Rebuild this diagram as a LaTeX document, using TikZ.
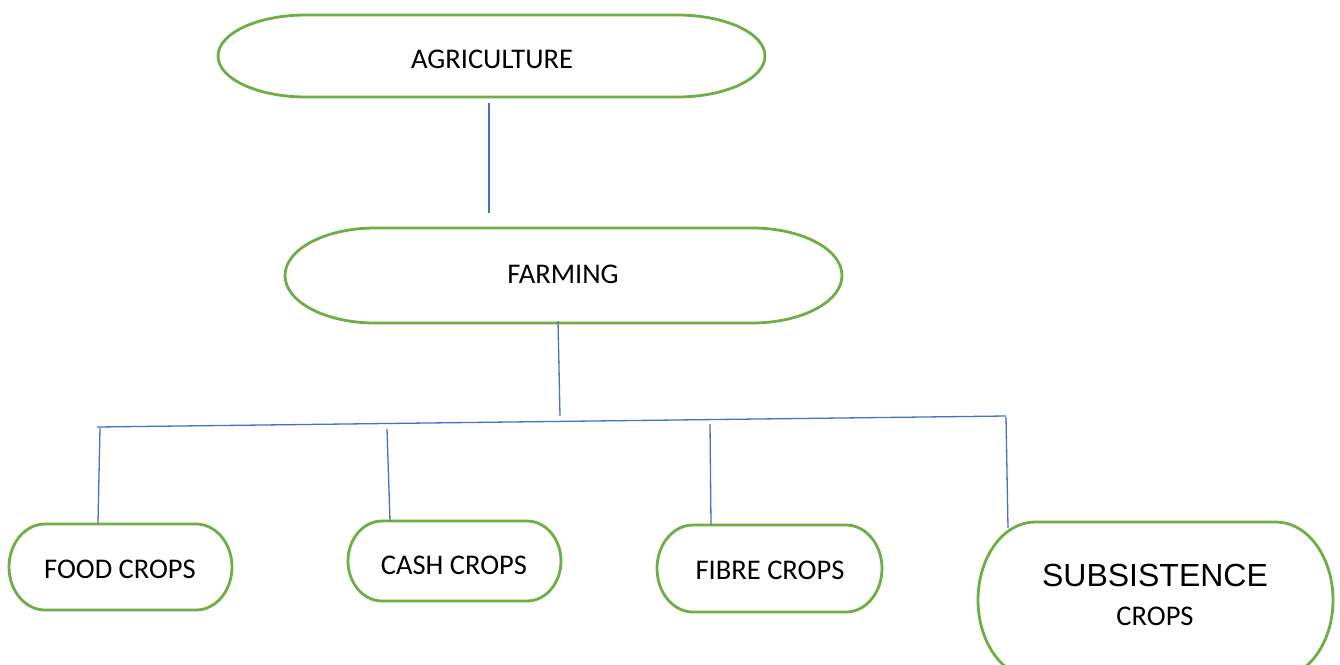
\documentclass[tikz,border=0pt]{standalone}
\usepackage{fontspec}
\setmainfont{Carlito}
\newfontfamily\arialfam{Liberation Sans}
\definecolor{termgreen}{HTML}{70AD47}
\definecolor{linkblue}{HTML}{4472C4}
\tikzset{
  greenline/.style={draw=termgreen,line width=2.8pt},
  link/.style={draw=linkblue,line width=1.3pt},
  boxlabel/.style={inner sep=0pt,font=\fontsize{28.5}{34}\selectfont,text=black},
}
\newcommand\termshape[5]{% cx cy w h rx (pixel coords, y down)
  \draw[greenline] ({#1-#3/2+#5},{-#2+#4/2}) -- ({#1+#3/2-#5},{-#2+#4/2})
    arc[start angle=90,end angle=-90,x radius=#5,y radius=#4/2]
    -- ({#1-#3/2+#5},{-#2-#4/2})
    arc[start angle=270,end angle=90,x radius=#5,y radius=#4/2] -- cycle;}
\begin{document}
\begin{tikzpicture}[x=1pt,y=1pt]
\useasboundingbox (0,0) rectangle (1340,-664);
\clip (0,0) rectangle (1340,-664);
% shapes
\termshape{491.5}{56}{547}{82}{88}
\termshape{563.5}{275.5}{557}{95}{90}
\termshape{120.5}{567}{223}{86}{36}
\termshape{454.5}{561}{213}{80}{34}
\termshape{769.5}{568.5}{225}{87}{36}
\termshape{1155.5}{600}{355}{156}{57}
% labels
\node[boxlabel] (agri) at (492,-59) {AGRICULTURE};
\node[boxlabel] (farm) at (563,-274) {FARMING};
\node[boxlabel] (food) at (120,-569) {FOOD CROPS};
\node[boxlabel] (cash) at (454,-565) {CASH CROPS};
\node[boxlabel] (fibre) at (770,-570) {FIBRE CROPS};
\node[boxlabel,font=\arialfam\fontsize{32}{38}\selectfont] (subs) at (1155,-575) {SUBSISTENCE};
\node[boxlabel] (subscrops) at (1155,-616) {CROPS};
% connector coordinates
\coordinate (a1) at (489,-103);
\coordinate (a2) at (489,-213);
\coordinate (f1) at (558,-321);
\coordinate (f2) at (560,-416);
\coordinate (b1) at (97,-427);
\coordinate (b2) at (1006,-416);
\coordinate (d1a) at (100,-428);
\coordinate (d1b) at (98,-523);
\coordinate (d2a) at (387,-429);
\coordinate (d2b) at (390,-521);
\coordinate (d3a) at (710,-424);
\coordinate (d3b) at (711,-525);
\coordinate (d4a) at (1006,-417);
\coordinate (d4b) at (1008,-528);
% connectors
\draw[link] (a1) -- (a2);
\draw[link] (f1) -- (f2);
\draw[link] (b1) -- (b2);
\draw[link] (d1a) -- (d1b);
\draw[link] (d2a) -- (d2b);
\draw[link] (d3a) -- (d3b);
\draw[link] (d4a) -- (d4b);
\end{tikzpicture}
\end{document}
